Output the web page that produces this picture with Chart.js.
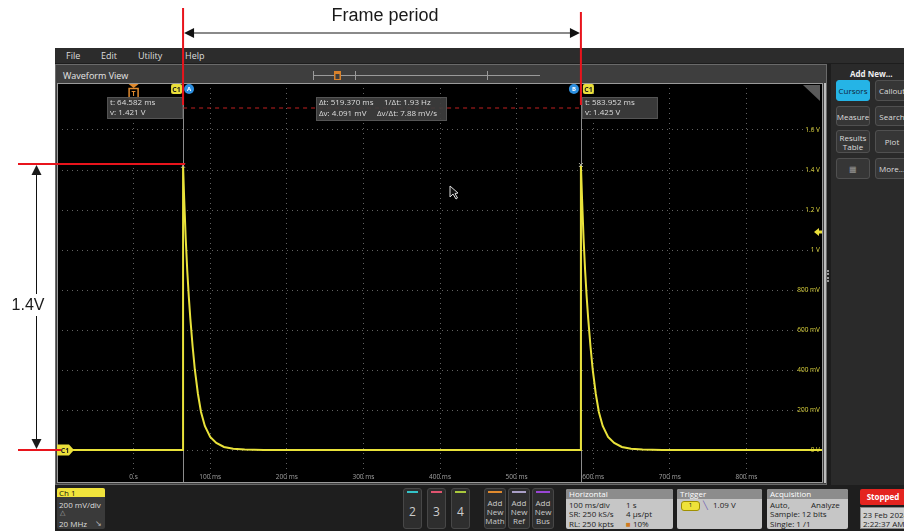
<!DOCTYPE html>
<html>
<head>
<meta charset="utf-8">
<script src="https://cdn.jsdelivr.net/npm/chart.js@4.4.1/dist/chart.umd.min.js"></script>
<style>
  body { margin: 0; width: 904px; height: 531px; background: #fff; position: relative; overflow: hidden;
         font-family: 'Open Sans', 'Noto Sans', sans-serif; }
  .a { position: absolute; box-sizing: border-box; }
  .menu span { position: absolute; top: 1px; font-size: 9px; color: #ddd; }
  .btn { position: absolute; background: #363636; border: 1px solid #505050; border-radius: 3px; color: #ddd;
         font-size: 8px; text-align: center; box-sizing: border-box; display: flex; align-items: center; justify-content: center; line-height: 9px; }
  .chbtn { position: absolute; top: 488px; height: 41px; background: #2e2e2e; border: 1px solid #474747; border-radius: 3px; box-sizing: border-box; color: #ccc; text-align: center; }
  .chbtn i { position: absolute; left: 3px; right: 3px; top: 2px; height: 2px; }
  .chbtn b { position: absolute; left: 0; right: 0; top: 14px; font-size: 12px; font-weight: normal; }
  .chbtn p { margin: 0; position: absolute; left: 0; right: 0; top: 9px; font-size: 8px; line-height: 9px; }
  .info { position: absolute; top: 489px; height: 40px; background: #c6c6c6; border-radius: 2px; overflow: hidden; font-size: 8px; color: #222; }
  .info .hd { background: #8c8c8c; color: #fff; height: 10px; line-height: 10px; padding-left: 3px; }
  .info div.r { position: absolute; left: 3px; white-space: nowrap; }
  canvas { position: absolute; left: 0; top: 0; z-index: 2; }
</style>
</head>
<body>
<!-- scope UI chrome -->
<div class="a" style="left:55px;top:48px;width:849px;height:483px;background:#1d1d1d"></div>
<div class="a menu" style="left:55px;top:48px;width:849px;height:15px;background:#2c2c2c">
  <span style="left:11px">File</span><span style="left:46px">Edit</span><span style="left:83px">Utility</span><span style="left:130px">Help</span>
</div>
<div class="a" style="left:55px;top:64px;width:772px;height:421px;background:#3e3e3e;border:1px solid #6a6a6a"></div>
<div class="a" style="left:63px;top:69px;font-size:9px;color:#e6e6e6">Waveform View</div>
<div class="a" style="left:824px;top:83px;width:2px;height:400px;background:#bdbdbd"></div>
<div class="a" style="left:827px;top:270px;width:2px;height:12px;border-left:2px dotted #999"></div>
<div class="a" style="left:831px;top:64px;width:73px;height:421px;background:#2a2a2a"></div>
<div class="a" style="left:850px;top:68px;font-size:8px;color:#eee;font-weight:bold">Add New...</div>
<div class="btn" style="left:836px;top:80px;width:34px;height:21px;background:#25b4e6;border-color:#25b4e6;color:#10263a">Cursors</div>
<div class="btn" style="left:875px;top:80px;width:34px;height:21px">Callout</div>
<div class="btn" style="left:836px;top:106px;width:34px;height:20px">Measure</div>
<div class="btn" style="left:875px;top:106px;width:34px;height:20px">Search</div>
<div class="btn" style="left:836px;top:130px;width:34px;height:23px">Results<br>Table</div>
<div class="btn" style="left:875px;top:130px;width:34px;height:23px">Plot</div>
<div class="btn" style="left:836px;top:158px;width:34px;height:21px;color:#999">&#9638;</div>
<div class="btn" style="left:875px;top:158px;width:34px;height:21px">More...</div>

<!-- bottom bar -->
<div class="a" style="left:55px;top:485px;width:849px;height:46px;background:#1e1e1e"></div>
<div class="a" style="left:57px;top:488px;width:48px;height:41px;background:#3a3a3a;border-radius:2px;overflow:hidden;font-size:8px;color:#ddd">
  <div style="background:#f0e33c;color:#111;height:9px;line-height:9px;padding-left:2px">Ch 1</div>
  <div style="position:absolute;left:2px;top:11px">200 mV/div</div>
  <div style="position:absolute;left:3px;top:20px;font-size:7px;color:#aaa">&#9651;</div>
  <div style="position:absolute;left:2px;top:30px">20 MHz</div>
  <div style="position:absolute;left:38px;top:29px;font-size:8px;color:#bbb">&#8600;</div>
</div>
<div class="chbtn" style="left:403px;width:19px"><i style="background:#34c3c8"></i><b>2</b></div>
<div class="chbtn" style="left:427px;width:19px"><i style="background:#e05470"></i><b>3</b></div>
<div class="chbtn" style="left:451px;width:19px"><i style="background:#a9c83c"></i><b>4</b></div>
<div class="chbtn" style="left:484px;width:22px"><i style="background:#e08a2e"></i><p>Add<br>New<br>Math</p></div>
<div class="chbtn" style="left:508px;width:22px"><i style="background:#a99fc6"></i><p>Add<br>New<br>Ref</p></div>
<div class="chbtn" style="left:532px;width:22px"><i style="background:#9846d4"></i><p>Add<br>New<br>Bus</p></div>
<div class="info" style="left:566px;width:107px">
  <div class="hd">Horizontal</div>
  <div class="r" style="top:10px">100 ms/div</div><div class="r" style="top:10px;left:60px">1 s</div>
  <div class="r" style="top:19px">SR: 250 kS/s</div><div class="r" style="top:19px;left:60px">4 &micro;s/pt</div>
  <div class="r" style="top:29px">RL: 250 kpts</div><div class="r" style="top:29px;left:60px"><span style="color:#d07a20">&#9632;</span> 10%</div>
</div>
<div class="info" style="left:677px;width:85px">
  <div class="hd">Trigger</div>
  <div class="r" style="top:12px;left:4px;width:17px;height:8px;background:#efe23a;border-radius:3px;border:1px solid #a09000;font-size:6px;line-height:7px;text-align:center">1</div>
  <div class="r" style="top:10px;left:26px;color:#6f5fb0">&#9586;</div>
  <div class="r" style="top:10px;left:36px">1.09 V</div>
</div>
<div class="info" style="left:767px;width:81px">
  <div class="hd">Acquisition</div>
  <div class="r" style="top:10px">Auto,</div><div class="r" style="top:10px;left:44px">Analyze</div>
  <div class="r" style="top:19px">Sample: 12 bits</div>
  <div class="r" style="top:29px">Single: 1 /1</div>
</div>
<div class="a" style="left:860px;top:489px;width:46px;height:16px;background:#e4241f;border-radius:2px;color:#fff;font-size:8px;font-weight:bold;text-align:center;line-height:16px">Stopped</div>
<div class="a" style="left:860px;top:507px;width:46px;height:22px;background:#cfcfcf;border:1px solid #888;font-size:8px;color:#222;line-height:9px;padding:2px 0 0 2px;white-space:nowrap;overflow:hidden">23 Feb 2024<br>2:22:37 AM</div>

<canvas id="scope" width="904" height="531"></canvas>

<script>
// axis ticks
const xTickValues = [0, 100, 200, 300, 400, 500, 600, 700, 800];
const xTickLabels = ['0 s', '100 ms', '200 ms', '300 ms', '400 ms', '500 ms', '600 ms', '700 ms', '800 ms'];
const yTickValues = [0, 0.2, 0.4, 0.6, 0.8, 1.0, 1.2, 1.4, 1.6];
const yTickLabels = ['0 V', '200 mV', '400 mV', '600 mV', '800 mV', '1 V', '1.2 V', '1.4 V', '1.6 V'];

// Ch1 trace (ms, V)
const traceTimeMs = [-100, -50, 0, 50, 64.5, 64.58, 66, 68, 70, 72, 74, 77, 80, 84, 88, 93, 100, 108, 118, 130, 145, 170, 250, 350, 450, 550,
                     583.9, 583.95, 585.4, 587.4, 589.4, 591.4, 593.4, 596.4, 599.4, 603.4, 607.4, 612.4, 619.4, 627.4, 637.4, 649.4, 664.4, 690, 780, 880, 900];
const traceVolts  = [0, 0, 0, 0, 0, 1.421, 1.26, 1.06, 0.90, 0.77, 0.66, 0.52, 0.40, 0.28, 0.19, 0.12, 0.065, 0.035, 0.015, 0.006, 0.002, 0, 0, 0, 0, 0,
                     0, 1.425, 1.26, 1.06, 0.90, 0.77, 0.66, 0.52, 0.40, 0.28, 0.19, 0.12, 0.065, 0.035, 0.015, 0.006, 0.002, 0, 0, 0, 0];

// cursors and readouts
const cursorTimesMs = [64.582, 583.952];
const cursorVolts = [1.421, 1.425];
const cursorRefV = 1.71;
const triggerLevelV = 1.09;
const annotLevelV = 1.43;

const uiFont = "'Open Sans', 'Noto Sans', sans-serif";

function arrowHead(ctx, x, y, dx, dy, len, half) {
    // tip at x,y pointing along dx,dy
    ctx.beginPath();
    ctx.moveTo(x, y);
    ctx.lineTo(x - dx * len - dy * half, y - dy * len + dx * half);
    ctx.lineTo(x - dx * len + dy * half, y - dy * len - dx * half);
    ctx.closePath();
    ctx.fill();
}

function readout(ctx, x, y, w, h, rows) {
    ctx.fillStyle = 'rgba(62,62,62,0.92)';
    ctx.fillRect(x, y, w, h);
    ctx.strokeStyle = '#555';
    ctx.strokeRect(x + 0.5, y + 0.5, w - 1, h - 1);
    ctx.fillStyle = '#dedede';
    ctx.font = '8px ' + uiFont;
    ctx.textBaseline = 'middle';
    ctx.textAlign = 'left';
    rows.forEach(r => ctx.fillText(r[0], x + r[1], y + r[2]));
}

function tag(ctx, x, y, w, h, fill, text, color) {
    ctx.fillStyle = fill;
    ctx.beginPath();
    ctx.roundRect(x, y, w, h, 2);
    ctx.fill();
    ctx.fillStyle = color;
    ctx.font = 'bold 7px ' + uiFont;
    ctx.textAlign = 'center';
    ctx.textBaseline = 'middle';
    ctx.fillText(text, x + w / 2, y + h / 2 + 0.5);
}

function circleTag(ctx, cx, cy, text) {
    ctx.fillStyle = '#2d8fe0';
    ctx.beginPath();
    ctx.arc(cx, cy, 5, 0, Math.PI * 2);
    ctx.fill();
    ctx.fillStyle = '#fff';
    ctx.font = 'bold 6px ' + uiFont;
    ctx.textAlign = 'center';
    ctx.textBaseline = 'middle';
    ctx.fillText(text, cx, cy + 0.5);
}

const scopeOverlay = {
    id: 'scopeOverlay',
    beforeDraw(chart) {
        const { ctx, chartArea: a } = chart;
        ctx.save();
        ctx.fillStyle = '#000';
        ctx.fillRect(a.left, a.top, a.right - a.left, a.bottom - a.top);
        ctx.restore();
    },
    beforeDatasetsDraw(chart) {
        const { ctx, chartArea: a, scales: { x, y } } = chart;
        ctx.save();
        ctx.strokeStyle = '#8c8c8c';
        ctx.lineWidth = 1;
        cursorTimesMs.forEach(t => {
            const px = Math.round(x.getPixelForValue(t)) + 0.5;
            ctx.beginPath();
            ctx.moveTo(px, a.top);
            ctx.lineTo(px, a.bottom);
            ctx.stroke();
        });
        // volt labels inside the right edge, placed by the y scale
        ctx.fillStyle = '#d8cf3a';
        ctx.font = '6.5px ' + uiFont;
        ctx.textAlign = 'right';
        ctx.textBaseline = 'middle';
        yTickValues.forEach((v, i) => ctx.fillText(yTickLabels[i], a.right - 3, y.getPixelForValue(v)));
        ctx.restore();
    },
    afterDraw(chart) {
        const { ctx, chartArea: a, scales: { x, y } } = chart;
        const xa = x.getPixelForValue(cursorTimesMs[0]);
        const xb = x.getPixelForValue(cursorTimesMs[1]);
        const y0 = y.getPixelForValue(0);
        ctx.save();

        // plot frame
        ctx.strokeStyle = '#9a9a9a';
        ctx.lineWidth = 1;
        ctx.strokeRect(a.left + 0.5, a.top + 0.5, a.right - a.left - 1, a.bottom - a.top);

        // waveform view overview strip
        ctx.strokeStyle = '#9a9a9a';
        ctx.beginPath();
        ctx.moveTo(313, 75.5); ctx.lineTo(540, 75.5);
        ctx.moveTo(313.5, 71); ctx.lineTo(313.5, 80);
        ctx.moveTo(355.5, 71); ctx.lineTo(355.5, 80);
        ctx.moveTo(487.5, 71); ctx.lineTo(487.5, 80);
        ctx.stroke();
        ctx.fillStyle = '#d9822b';
        ctx.fillRect(334, 71, 7, 9);
        ctx.fillStyle = '#3e3e3e';
        ctx.fillRect(335.5, 74, 4, 5);

        // reference dashed line between cursors
        const yr = y.getPixelForValue(cursorRefV);
        ctx.strokeStyle = '#c02020';
        ctx.setLineDash([4, 4]);
        ctx.beginPath();
        ctx.moveTo(xa, yr); ctx.lineTo(xb, yr);
        ctx.stroke();
        ctx.setLineDash([]);

        // trigger T marker at t = 0
        const xt = x.getPixelForValue(0);
        ctx.fillStyle = '#e08a2e';
        ctx.beginPath();
        ctx.moveTo(xt - 5, a.top + 1); ctx.lineTo(xt + 5, a.top + 1); ctx.lineTo(xt, a.top + 5); ctx.closePath(); ctx.fill();
        ctx.strokeStyle = '#e08a2e';
        ctx.lineWidth = 1.5;
        ctx.strokeRect(xt - 4.5, a.top + 5.5, 9, 10);
        ctx.fillStyle = '#e08a2e';
        ctx.font = 'bold 7px ' + uiFont;
        ctx.textAlign = 'center';
        ctx.textBaseline = 'middle';
        ctx.fillText('T', xt, a.top + 11);
        ctx.lineWidth = 1;

        // cursor tags
        tag(ctx, xa - 12, a.top + 1, 11, 10, '#eadf3a', 'C1', '#222');
        circleTag(ctx, xa + 6, a.top + 6, 'A');
        circleTag(ctx, xb - 7, a.top + 6, 'B');
        tag(ctx, xb + 2, a.top + 1, 11, 10, '#eadf3a', 'C1', '#222');

        // readouts
        readout(ctx, xa - 76, a.top + 14, 76, 22, [['t: 64.582 ms', 3, 6], ['v: 1.421 V', 3, 16]]);
        const xm = (xa + xb) / 2;
        readout(ctx, xm - 66, a.top + 14, 131, 24, [
            ['\u0394t: 519.370 ms', 3, 6], ['1/\u0394t: 1.93 Hz', 68, 6],
            ['\u0394v: 4.091 mV', 3, 17], ['\u0394v/\u0394t: 7.88 mV/s', 61, 17]]);
        readout(ctx, xb + 1, a.top + 14, 76, 22, [['t: 583.952 ms', 3, 6], ['v: 1.425 V', 3, 16]]);

        // cursor / trace crossing marks
        ctx.strokeStyle = '#b0b0a0';
        cursorTimesMs.forEach((t, i) => {
            const px = x.getPixelForValue(t), py = y.getPixelForValue(cursorVolts[i]);
            ctx.beginPath();
            ctx.moveTo(px - 2, py - 2); ctx.lineTo(px + 2, py + 2);
            ctx.moveTo(px + 2, py - 2); ctx.lineTo(px - 2, py + 2);
            ctx.stroke();
        });

        // corner icon
        ctx.fillStyle = '#5a5a5a';
        ctx.beginPath();
        ctx.moveTo(a.right - 20, a.top + 2); ctx.lineTo(a.right - 3, a.top + 2); ctx.lineTo(a.right - 3, a.top + 18); ctx.closePath(); ctx.fill();

        // trigger level arrow
        const yt = y.getPixelForValue(triggerLevelV);
        ctx.fillStyle = '#eadf3a';
        arrowHead(ctx, a.right - 9, yt, -1, 0, 5, 4);
        ctx.fillRect(a.right - 5, yt - 1.5, 4, 3);

        // Ch1 offset marker
        ctx.fillStyle = '#eadf3a';
        ctx.beginPath();
        ctx.moveTo(a.left, y0 - 5.5); ctx.lineTo(a.left + 12, y0 - 5.5); ctx.lineTo(a.left + 17, y0);
        ctx.lineTo(a.left + 12, y0 + 5.5); ctx.lineTo(a.left, y0 + 5.5); ctx.closePath(); ctx.fill();
        ctx.fillStyle = '#222';
        ctx.font = 'bold 7px ' + uiFont;
        ctx.textAlign = 'center';
        ctx.textBaseline = 'middle';
        ctx.fillText('C1', a.left + 8, y0 + 0.5);

        // mouse pointer
        ctx.fillStyle = '#111';
        ctx.strokeStyle = '#ddd';
        ctx.beginPath();
        ctx.moveTo(450, 186); ctx.lineTo(450, 197); ctx.lineTo(453, 194); ctx.lineTo(456, 199);
        ctx.lineTo(457.5, 198); ctx.lineTo(455, 193.5); ctx.lineTo(458, 193); ctx.closePath();
        ctx.fill(); ctx.stroke();

        // --- annotations drawn over the screenshot ---
        const yp = y.getPixelForValue(annotLevelV);
        ctx.strokeStyle = '#e8141c';
        ctx.lineWidth = 2;
        ctx.beginPath();
        ctx.moveTo(xa, 8); ctx.lineTo(xa, a.top + 22);
        ctx.moveTo(xb, 12); ctx.lineTo(xb, a.top + 22);
        ctx.moveTo(18, yp); ctx.lineTo(xa + 2, yp);
        ctx.moveTo(18, y0); ctx.lineTo(a.left + 4, y0);
        ctx.stroke();

        // frame period arrow
        ctx.strokeStyle = '#8a8a8a';
        ctx.lineWidth = 2;
        ctx.beginPath();
        ctx.moveTo(xa + 8, 33); ctx.lineTo(xb - 8, 33);
        ctx.stroke();
        ctx.fillStyle = '#111';
        arrowHead(ctx, xa + 1, 33, -1, 0, 10, 5);
        arrowHead(ctx, xb - 1, 33, 1, 0, 10, 5);
        ctx.font = '18px "Liberation Sans", Arial, sans-serif';
        ctx.textAlign = 'center';
        ctx.textBaseline = 'middle';
        ctx.fillStyle = '#1a1a1a';
        ctx.fillText('Frame period', xm + 3, 16);

        // 1.4V arrow
        ctx.strokeStyle = '#111';
        ctx.lineWidth = 1;
        ctx.beginPath();
        ctx.moveTo(36.5, yp + 8); ctx.lineTo(36.5, y0 - 8);
        ctx.stroke();
        arrowHead(ctx, 36.5, yp + 1, 0, -1, 10, 5);
        arrowHead(ctx, 36.5, y0 - 1, 0, 1, 10, 5);
        ctx.fillStyle = '#fff';
        ctx.fillRect(8, 294, 40, 22);
        ctx.fillStyle = '#1a1a1a';
        ctx.font = '16px "Liberation Sans", Arial, sans-serif';
        ctx.fillText('1.4V', 28, 306);

        ctx.restore();
    }
};

new Chart(document.getElementById('scope'), {
    type: 'line',
    data: {
        datasets: [{
            data: traceTimeMs.map((t, i) => ({ x: t, y: traceVolts[i] })),
            borderColor: '#e9e23a',
            borderWidth: 2,
            pointRadius: 0,
            tension: 0,
            fill: false
        }]
    },
    options: {
        responsive: false,
        animation: false,
        events: [],
        layout: { padding: { left: 57, right: 81, top: 83, bottom: 47 } },
        plugins: { legend: { display: false }, tooltip: { enabled: false } },
        scales: {
            x: {
                type: 'linear',
                min: -100,
                max: 900,
                afterBuildTicks: s => { s.ticks = xTickValues.map(v => ({ value: v })); },
                ticks: {
                    mirror: true,
                    padding: 1,
                    maxRotation: 0,
                    autoSkip: false,
                    color: '#a0a0a0',
                    font: { size: 6.5, family: uiFont },
                    callback: v => xTickLabels[xTickValues.indexOf(v)]
                },
                grid: { color: 'rgba(140,140,140,0.7)', drawTicks: false },
                border: { display: false, dash: [1, 4] }
            },
            y: {
                position: 'right',
                min: -0.16,
                max: 1.835,
                afterBuildTicks: s => { s.ticks = yTickValues.map(v => ({ value: v })); },
                ticks: { display: false },
                grid: { color: 'rgba(140,140,140,0.7)', drawTicks: false },
                border: { display: false, dash: [1, 4] }
            }
        }
    },
    plugins: [scopeOverlay]
});
</script>
</body>
</html>
